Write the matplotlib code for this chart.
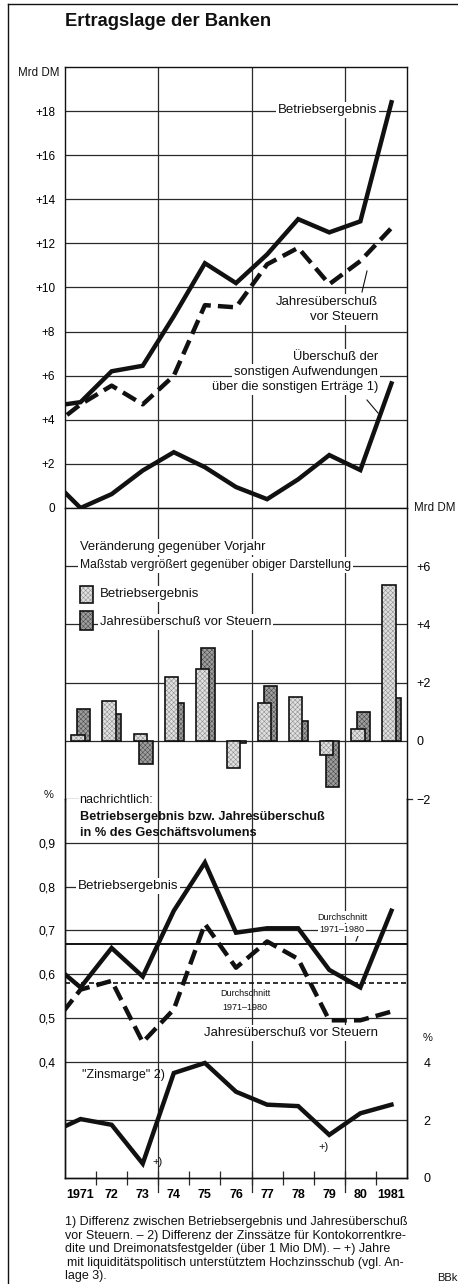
import matplotlib
matplotlib.use('Agg')
import matplotlib.pyplot as plt
from matplotlib.lines import Line2D
from matplotlib.patches import Rectangle

# ---------------- data ----------------
years = [1970, 1971, 1972, 1973, 1974, 1975, 1976, 1977, 1978, 1979, 1980, 1981]
year_labels = ['1971', '72', '73', '74', '75', '76', '77', '78', '79', '80', '1981']
label_years = [1971, 1972, 1973, 1974, 1975, 1976, 1977, 1978, 1979, 1980, 1981]

betrieb_mrd = [4.6, 4.8, 6.2, 6.45, 8.7, 11.1, 10.2, 11.5, 13.1, 12.5, 13.0, 18.4]
jahres_mrd = [3.6, 4.7, 5.55, 4.7, 6.0, 9.2, 9.1, 11.05, 11.8, 10.15, 11.2, 12.7]
sonstige_mrd = [1.4, 0.0, 0.63, 1.7, 2.53, 1.85, 0.95, 0.4, 1.3, 2.4, 1.72, 5.65]

bar_years = [1971, 1972, 1973, 1974, 1975, 1976, 1977, 1978, 1979, 1980, 1981]
chg_betrieb = [0.2, 1.37, 0.23, 2.2, 2.46, -0.92, 1.3, 1.5, -0.5, 0.4, 5.35]
chg_jahres = [1.1, 0.93, -0.8, 1.3, 3.2, -0.08, 1.88, 0.68, -1.6, 1.0, 1.48]

pct_betrieb = [0.63, 0.57, 0.66, 0.595, 0.745, 0.855, 0.695, 0.705, 0.705, 0.61, 0.57, 0.745]
pct_jahres = [0.475, 0.565, 0.585, 0.445, 0.52, 0.715, 0.615, 0.675, 0.635, 0.495, 0.495, 0.515]
zinsmarge = [1.55, 2.05, 1.85, 0.5, 3.65, 4.0, 3.0, 2.55, 2.5, 1.5, 2.25, 2.55]
avg_betrieb = 0.67
avg_jahres = 0.58

top_ticks = [0, 2, 4, 6, 8, 10, 12, 14, 16, 18]
top_tick_labels = ['0', '+2', '+4', '+6', '+8', '+10', '+12', '+14', '+16', '+18']
mid_ticks = [-2, 0, 2, 4, 6]
mid_tick_labels = ['\u22122', '0', '+2', '+4', '+6']
pct_ticks = [0.4, 0.5, 0.6, 0.7, 0.8, 0.9]
pct_tick_labels = ['0,4', '0,5', '0,6', '0,7', '0,8', '0,9']
zins_ticks = [0, 2, 4]
zins_tick_labels = ['0', '2', '4']
grid_boundaries = [1973.5, 1976.5, 1979.5]
year_boundaries = [1971.5, 1972.5, 1973.5, 1974.5, 1975.5, 1976.5, 1977.5, 1978.5, 1979.5, 1980.5]

# ---------------- layout ----------------
plt.rcParams['font.family'] = ['Liberation Sans', 'DejaVu Sans']
plt.rcParams['hatch.linewidth'] = 0.35
W, H = 458, 1284
fig = plt.figure(figsize=(W / 100, H / 100), dpi=100)
fig.patch.set_facecolor('white')


def fx(x):
    return x / W


def fy(y):
    return 1 - y / H


L, R = 65, 407
ax1 = fig.add_axes([fx(L), fy(508), fx(R) - fx(L), fy(67) - fy(508)])
ax2 = fig.add_axes([fx(L), fy(799), fx(R) - fx(L), fy(508) - fy(799)])
ax3 = fig.add_axes([fx(L), fy(1178), fx(R) - fx(L), fy(799) - fy(1178)])
ax3b = ax3.twinx()

XL = (1970.5, 1981.5)
INK = '#111111'
GRID = '#2a2a2a'
LW = 3.2

LIGHT_FC, LIGHT_HC = '#e0e0e0', '#8a8a8a'
DARK_FC, DARK_HC = '#9e9e9e', '#444444'

for ax in (ax1, ax2, ax3, ax3b):
    ax.set_xlim(*XL)
    ax.set_facecolor('none')
    for s in ax.spines.values():
        s.set_linewidth(1.0)
        s.set_color(INK)

# vertical grid lines
for ax in (ax1, ax2):
    for b in grid_boundaries:
        ax.axvline(b, color=GRID, lw=0.9, zorder=1)
for b in grid_boundaries:
    ax3.axvline(b, ymin=-14 / 379, ymax=1, color=GRID, lw=0.9, zorder=1, clip_on=False)

# ---------------- top panel ----------------
ax1.set_ylim(0, 20)
ax1.set_yticks(top_ticks)
ax1.set_yticklabels(top_tick_labels, fontsize=8.5)
ax1.tick_params(axis='y', length=0, pad=7)
ax1.set_xticks([])
ax1.yaxis.grid(True, color=GRID, lw=0.9)
ax1.set_axisbelow(True)
ax1.plot(years, betrieb_mrd, color=INK, lw=LW, solid_joinstyle='miter', zorder=4)
ax1.plot(years, jahres_mrd, color=INK, lw=LW, dashes=(3.4, 1.6), zorder=4)
ax1.plot(years, sonstige_mrd, color=INK, lw=LW, solid_joinstyle='miter', zorder=4)

# ---------------- middle panel ----------------
ax2.set_ylim(-2, 8)
ax2.set_xticks([])
ax2.yaxis.tick_right()
ax2.set_yticks(mid_ticks)
ax2.set_yticklabels(mid_tick_labels, fontsize=9)
ax2.tick_params(axis='y', length=0, pad=7)
ax2.spines['top'].set_visible(False)
ax2.spines['bottom'].set_visible(False)
for v in (0, 2, 4, 6):
    ax2.axhline(v, color=GRID, lw=0.9, zorder=1)
ax2.axhline(-2, xmin=0, xmax=13 / 342, color=GRID, lw=0.9, zorder=1)
ax2.plot([1.0, 1.016], [-2, -2], transform=ax2.get_yaxis_transform(), color=GRID, lw=0.9, clip_on=False)

bw = 0.43
x_dark = [y + 0.10 for y in bar_years]
x_light = [y - 0.08 for y in bar_years]
ax2.bar(x_dark, chg_jahres, width=bw, color=DARK_FC, edgecolor='none', lw=0, zorder=3)
ax2.bar(x_dark, chg_jahres, width=bw, fill=False, edgecolor=DARK_HC, lw=0, hatch='xxxxxxx', zorder=3.1)
ax2.bar(x_dark, chg_jahres, width=bw, fill=False, edgecolor=INK, lw=1.2, zorder=3.2)
ax2.bar(x_light, chg_betrieb, width=bw, color=LIGHT_FC, edgecolor='none', lw=0, zorder=4)
ax2.bar(x_light, chg_betrieb, width=bw, fill=False, edgecolor=LIGHT_HC, lw=0, hatch='xxxxxxx', zorder=4.1)
ax2.bar(x_light, chg_betrieb, width=bw, fill=False, edgecolor=INK, lw=1.2, zorder=4.2)

# ---------------- bottom panel ----------------
ax3.set_ylim(0.1352, 1.0)
ax3.set_yticks(pct_ticks)
ax3.set_yticklabels(pct_tick_labels, fontsize=8.7)
ax3.tick_params(axis='y', length=0, pad=7)
ax3.spines['top'].set_visible(False)
ax3.yaxis.grid(True, color=GRID, lw=0.9)
ax3.set_axisbelow(True)
ax3.set_xticks(label_years)
ax3.set_xticklabels(year_labels, fontsize=9, fontweight='bold')
ax3.set_xticks(year_boundaries, minor=True)
ax3.tick_params(axis='x', which='major', length=0, pad=8)
ax3.tick_params(axis='x', which='minor', direction='inout', length=10, width=0.9, color=GRID)
ax3.axhline(avg_betrieb, color=INK, lw=1.4, zorder=2)
ax3.axhline(avg_jahres, color=INK, lw=1.2, dashes=(3, 1.8), zorder=2)
ax3.plot(years, pct_betrieb, color=INK, lw=LW, solid_joinstyle='miter', zorder=4)
ax3.plot(years, pct_jahres, color=INK, lw=LW, dashes=(3.4, 1.6), zorder=4)

ax3b.set_ylim(0, 13.18)
ax3b.set_yticks(zins_ticks)
ax3b.set_yticklabels(zins_tick_labels, fontsize=9)
ax3b.tick_params(axis='y', length=0, pad=12)
ax3b.spines['top'].set_visible(False)
ax3b.axhline(2, color=GRID, lw=0.9, zorder=1)
ax3b.plot(years, zinsmarge, color=INK, lw=LW, solid_joinstyle='miter', zorder=4)
ax3b.set_xlim(*XL)

# ---------------- texts ----------------
WB = dict(facecolor='white', edgecolor='none', pad=1.2)


def T(x, y, s, size=8, ha='left', va='center', weight='normal', bg=False, **kw):
    return fig.text(fx(x), fy(y), s, fontsize=size, ha=ha, va=va, fontweight=weight,
                    bbox=WB if bg else None, color=INK, **kw)


def seg(x0, y0, x1, y1, lw=0.8):
    fig.add_artist(Line2D([fx(x0), fx(x1)], [fy(y0), fy(y1)], transform=fig.transFigure,
                          color=INK, lw=lw))


def swatch(x0, y0, x1, y1, fc, hc):
    for kw in (dict(facecolor=fc, edgecolor='none', lw=0),
               dict(fill=False, edgecolor=hc, lw=0, hatch='xxxxxxx'),
               dict(fill=False, edgecolor=INK, lw=1.2)):
        fig.patches.append(Rectangle((fx(x0), fy(y1)), fx(x1) - fx(x0), fy(y0) - fy(y1),
                                     transform=fig.transFigure, **kw))


# frame
seg(8, 4, 8, 1284, lw=1.0)
seg(8, 4, 458, 4, lw=1.0)

T(65, 21, 'Ertragslage der Banken', size=13.2, weight='bold')
T(59, 73, 'Mrd DM', size=8.3, ha='right')
T(414, 508, 'Mrd DM', size=8.3)

# top panel annotations
A = 9.5
T(377, 110, 'Betriebsergebnis', size=A, ha='right', bg=True)
T(378, 302, 'Jahresüberschuß', size=A, ha='right', bg=True)
T(378, 317, 'vor Steuern', size=A, ha='right', bg=True)
seg(367, 271, 362, 292)
T(378, 357, 'Überschuß der', size=9.3, ha='right', bg=True)
T(378, 372, 'sonstigen Aufwendungen', size=9.3, ha='right', bg=True)
T(378, 387, 'über die sonstigen Erträge 1)', size=9.3, ha='right', bg=True)
seg(367, 400, 378, 413)

# middle panel annotations
T(80, 547, 'Veränderung gegenüber Vorjahr', size=9.4, bg=True)
T(80, 565, 'Maßstab vergrößert gegenüber obiger Darstellung', size=8.7, bg=True)
T(100, 594, 'Betriebsergebnis', size=9.5, bg=True)
T(100, 622, 'Jahresüberschuß vor Steuern', size=9.4, bg=True)
swatch(80, 586, 93, 603, LIGHT_FC, LIGHT_HC)
swatch(80, 611, 93, 630, DARK_FC, DARK_HC)

# bottom panel annotations
T(53, 795, '%', size=8, ha='right')
T(79, 800, 'nachrichtlich:', size=9)
T(80, 817, 'Betriebsergebnis bzw. Jahresüberschuß', size=9.2, weight='bold')
T(80, 833, 'in % des Geschäftsvolumens', size=9.2, weight='bold')
T(78, 886, 'Betriebsergebnis', size=9.6, bg=True)
T(342, 917, 'Durchschnitt', size=6.5, ha='center', bg=True)
T(342, 930, '1971\u20131980', size=6.5, ha='center', bg=True)
seg(356, 941, 358, 936)
T(245, 994, 'Durchschnitt', size=6.5, ha='center')
T(245, 1008, '1971\u20131980', size=6.5, ha='center')
T(378, 1033, 'Jahresüberschuß vor Steuern', size=9.5, ha='right', bg=True)
T(423, 1038, '%', size=8)
T(82, 1075, '"Zinsmarge" 2)', size=9)
T(152, 1162, '+)', size=8)
T(318, 1147, '+)', size=8)

# footnotes
foot = [
    (65, 1222, '1) Differenz zwischen Betriebsergebnis und Jahresüberschuß'),
    (65, 1236, 'vor Steuern. \u2013 2) Differenz der Zinssätze für Kontokorrentkre-'),
    (65, 1249, 'dite und Dreimonatsfestgelder (über 1 Mio DM). \u2013 +) Jahre'),
    (67, 1263, 'mit liquiditätspolitisch unterstütztem Hochzinsschub (vgl. An-'),
    (65, 1276, 'lage 3).'),
]
for x, y, s in foot:
    T(x, y, s, size=9)
T(437, 1278, 'BBk', size=8)

fig.savefig('out.png', dpi=100, facecolor='white')
